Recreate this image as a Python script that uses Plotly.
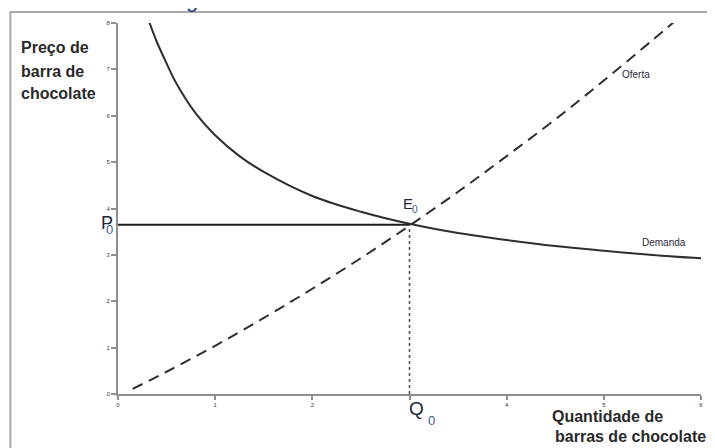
import plotly.graph_objects as go

# ---- data ----
demand_q = [0.32, 0.4, 0.5, 0.6, 0.8, 1.0, 1.25, 1.5, 2.0, 2.5, 3.0, 3.5, 4.0, 4.5, 5.0, 5.5, 6.05]
demand_p = [8.03, 7.59, 7.13, 6.70, 6.05, 5.58, 5.13, 4.79, 4.27, 3.93, 3.67, 3.47, 3.32, 3.19, 3.09, 3.0, 2.92]

supply_q = [0.15, 0.5, 1.0, 1.5, 2.0, 2.5, 3.0, 3.5, 4.0, 4.5, 5.0, 5.5, 5.72]
supply_p = [0.11, 0.48, 1.04, 1.64, 2.27, 2.93, 3.63, 4.36, 5.13, 5.92, 6.76, 7.63, 8.02]

q0 = 3.0
p0 = 3.65

x_ticks = [0, 1, 2, 3, 4, 5, 6]
x_ticktext = ["0", "1", "2", "", "4", "5", "6"]
y_ticks = [0, 1, 2, 3, 4, 5, 6, 7, 8]

# the page body has an 8px margin; figure is sized to fill the rest of the 715x448 window
OFF = 8
W, H = 715 - OFF, 448 - OFF
ML, MR, MT, MB = 110, 12, 13, 54
PW, PH = W - ML - MR, H - MT - MB


def xp(sx):
    # screen x -> paper x
    return (sx - OFF - ML) / PW


def yp(sy):
    # screen y -> paper y
    return (H - MB - (sy - OFF)) / PH


fig = go.Figure()

fig.add_trace(go.Scatter(x=demand_q, y=demand_p, mode="lines", line=dict(color="#2e2e2e", width=2, shape="spline"),
                         hoverinfo="skip", showlegend=False))
fig.add_trace(go.Scatter(x=supply_q, y=supply_p, mode="lines",
                         line=dict(color="#2e2e2e", width=2, dash="11px,7px", shape="spline"),
                         hoverinfo="skip", showlegend=False))
fig.add_trace(go.Scatter(x=[0, q0], y=[p0, p0], mode="lines", line=dict(color="#1e1e1e", width=2),
                         hoverinfo="skip", showlegend=False))
fig.add_trace(go.Scatter(x=[q0, q0], y=[0, p0], mode="lines", line=dict(color="#555555", width=1.6, dash="dot"),
                         hoverinfo="skip", showlegend=False))

# outer frame
fig.add_shape(type="rect", xref="paper", yref="paper", x0=xp(10), x1=xp(740), y0=yp(480), y1=yp(10),
              line=dict(color="#a9a9a9", width=2), layer="below")

lab_font = dict(family="Liberation Sans", size=16, color="#2a2a2a")
anns = []
for txt, sx, sy in [("<b>Preço de</b>", 19, 46), ("<b>barra de</b>", 19, 69.5), ("<b>chocolate</b>", 19, 91.5),
                    ("<b>Quantidade de</b>", 551, 416.5), ("<b>barras de chocolate</b>", 554, 436.5)]:
    anns.append(dict(text=txt, x=xp(sx), y=yp(sy), xref="paper", yref="paper", xanchor="left", yanchor="middle",
                     showarrow=False, font=lab_font))

sym_col = "#22263a"
sub_col = "#3a5b9c"
for txt, sx, sy, sz, col in [("P", 99, 222, 18, sym_col), ("0", 104, 229, 13, sub_col),
                             ("Q", 408, 408.5, 19, sym_col), ("0", 427, 421, 13, sub_col),
                             ("E", 402, 202.5, 15, sym_col), ("0", 411, 209, 10, sub_col)]:
    anns.append(dict(text=txt, x=xp(sx), y=yp(sy), xref="paper", yref="paper", xanchor="left", yanchor="middle",
                     showarrow=False, font=dict(family="Liberation Sans", size=sz, color=col)))

small_font = dict(family="Liberation Sans", size=10, color="#2a2a3a")
anns.append(dict(text="Oferta", x=xp(622), y=yp(72.5), xref="paper", yref="paper", xanchor="left",
                 yanchor="middle", showarrow=False, font=small_font))
anns.append(dict(text="Demanda", x=xp(642), y=yp(241.5), xref="paper", yref="paper", xanchor="left",
                 yanchor="middle", showarrow=False, font=small_font))
# fragment of a cut-off title at the top edge
anns.append(dict(text="g", x=xp(192), y=yp(-3), xref="paper", yref="paper", xanchor="center",
                 yanchor="middle", showarrow=False, font=dict(family="Liberation Sans", size=22, color="#1f3b8f")))

tick_font = dict(family="Liberation Sans", size=6, color="#3a3a3a")
fig.update_layout(
    width=W, height=H,
    margin=dict(l=ML, r=MR, t=MT, b=MB, pad=0),
    paper_bgcolor="white", plot_bgcolor="white",
    annotations=anns,
    xaxis=dict(range=[0, 6], tickvals=x_ticks, ticktext=x_ticktext, showgrid=False, zeroline=False,
               showline=True, linecolor="#8f8f8f", linewidth=2, ticks="outside", ticklen=4, tickwidth=1.5,
               tickcolor="#8f8f8f", tickfont=tick_font, fixedrange=True),
    yaxis=dict(range=[0, 8], tickvals=y_ticks, showgrid=False, zeroline=False,
               showline=True, linecolor="#8f8f8f", linewidth=2, ticks="outside", ticklen=5, tickwidth=1.5,
               tickcolor="#8f8f8f", tickfont=tick_font, fixedrange=True),
)

fig.write_html("out.html")
